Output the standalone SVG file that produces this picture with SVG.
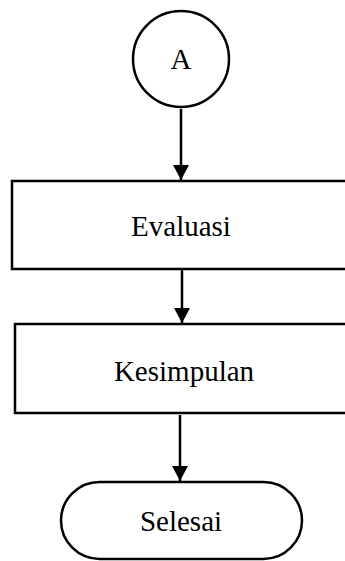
<svg xmlns="http://www.w3.org/2000/svg" width="345" height="561" viewBox="0 0 345 561">
<style>
.shape{fill:#fff;stroke:#000;stroke-width:2.5}
.conn{stroke:#000;stroke-width:2.5;fill:none}
.lbl{font-family:"Liberation Serif","Times New Roman",serif;font-size:29px;fill:#000;text-anchor:middle}
</style>
<defs>
<marker id="ah" markerUnits="userSpaceOnUse" markerWidth="16" markerHeight="16" refX="15" refY="8" orient="auto" viewBox="0 0 16 16">
<path d="M0,0 L15,8 L0,16 z" fill="#000"/>
</marker>
</defs>
<rect width="345" height="561" fill="#fff"/>
<g id="connectors">
<line class="conn" x1="181" y1="109" x2="181" y2="180" marker-end="url(#ah)"/>
<line class="conn" x1="182" y1="270" x2="182" y2="323" marker-end="url(#ah)"/>
<line class="conn" x1="180" y1="415" x2="180" y2="481" marker-end="url(#ah)"/>
</g>
<g id="nodeA">
<circle class="shape" cx="181" cy="59" r="48" stroke-width="2"/>
<text class="lbl" x="181" y="69">A</text>
</g>
<g id="evaluasi">
<rect class="shape" x="12" y="181" width="345" height="88"/>
<text class="lbl" x="181" y="236">Evaluasi</text>
</g>
<g id="kesimpulan">
<rect class="shape" x="15" y="324" width="345" height="89"/>
<text class="lbl" x="184" y="381">Kesimpulan</text>
</g>
<g id="selesai">
<rect class="shape" x="61" y="482" width="241" height="77" rx="38.5" ry="38.5" stroke-width="2"/>
<text class="lbl" x="181" y="531">Selesai</text>
</g>
</svg>
